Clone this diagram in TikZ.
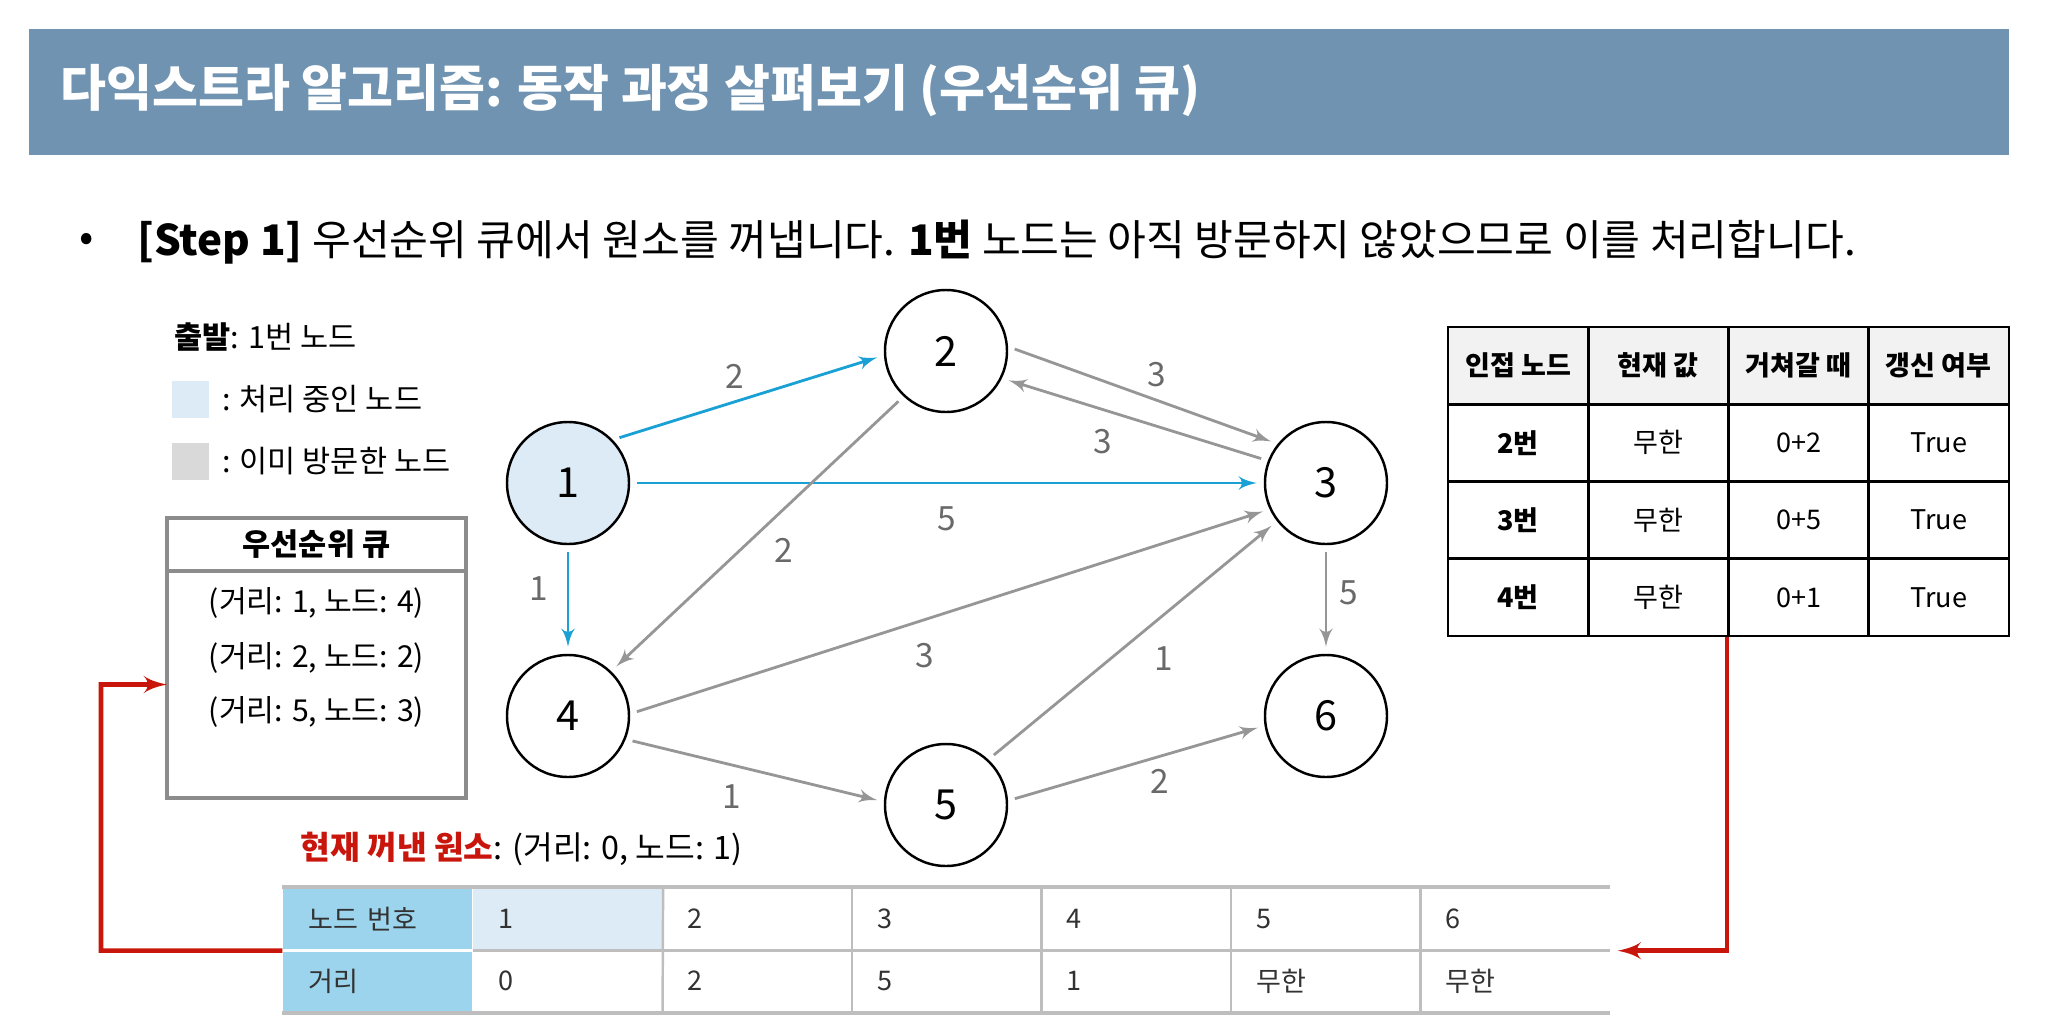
\documentclass[tikz,border=0pt]{standalone}
\usepackage{fontspec}
\setmainfont{Noto Sans CJK KR}
\usepackage{tikz}
\usetikzlibrary{arrows,positioning,shapes}

\definecolor{barblue}{RGB}{111,147,176}
\definecolor{hotblue}{RGB}{25,160,212}
\definecolor{edgegray}{RGB}{150,150,150}
\definecolor{labelgray}{RGB}{105,105,105}
\definecolor{procblue}{RGB}{221,235,247}
\definecolor{visitgray}{RGB}{217,217,217}
\definecolor{qgray}{RGB}{140,140,140}
\definecolor{redline}{RGB}{200,22,12}
\definecolor{headsky}{RGB}{155,212,236}
\definecolor{tablegray}{RGB}{190,190,190}
\definecolor{thead}{RGB}{242,242,242}
\definecolor{darktext}{RGB}{50,50,50}

\begin{document}
\begin{tikzpicture}[
    vertex/.style={circle, draw, line width=0.7pt, minimum size=1.22cm, inner sep=0pt, font=\fontsize{11.8}{12}\selectfont},
    edge/.style={->, >=latex', line width=0.8pt, draw=edgegray, shorten <=2pt, shorten >=2pt},
    hot/.style={edge, draw=hotblue},
    wlabel/.style={font=\fontsize{9.5}{10}\selectfont, text=labelgray},
    legbox/.style={rectangle, minimum size=0.37cm, inner sep=0pt},
    legtext/.style={font=\fontsize{8.7}{9}\selectfont, anchor=west},
    qbox/.style={rectangle, draw=qgray, line width=1.2pt, outer sep=0pt, minimum width=2.99cm},
    qitem/.style={font=\fontsize{8.6}{9}\selectfont},
    tcell/.style={rectangle, draw, line width=0.8pt, minimum width=1.4025cm, minimum height=0.7725cm, inner sep=0pt, font=\fontsize{7.7}{8}\selectfont},
    bcell/.style={rectangle, minimum width=1.8943cm, minimum height=0.62cm, inner xsep=0.26cm, inner ysep=0pt, text width=1.3743cm, align=left, font=\fontsize{7.7}{8}\selectfont, text=darktext},
    tline/.style={draw=tablegray, line width=0.7pt},
    redarrow/.style={->, >=latex', draw=redline, line width=1.3pt}
]
    \useasboundingbox (0,0) rectangle (20.48,-10.33);

    \node[rectangle, fill=barblue, minimum width=19.8cm, minimum height=1.26cm] (bar) at (10.19,-0.92) {};
    \node[anchor=west, text=white, font=\fontsize{14.2}{15}\selectfont\bfseries] (title) at (0.48,-0.91) {다익스트라 알고리즘: 동작 과정 살펴보기 (우선순위 큐)};

    \node[font=\fontsize{12}{13}\selectfont] (dot) at (0.87,-2.42) {•};
    \node[anchor=west, font=\fontsize{12}{13}\selectfont] (step) at (1.25,-2.42) {\textbf{[Step 1]} 우선순위 큐에서 원소를 꺼냅니다. \textbf{1번} 노드는 아직 방문하지 않았으므로 이를 처리합니다.};

    \node[legtext] (start) at (1.62,-3.37) {\textbf{출발}: 1번 노드};
    \node[legbox, fill=procblue] (legproc) at (1.905,-3.995) {};
    \node[legtext, right=0cm of legproc] (legproctxt) {: 처리 중인 노드};
    \node[legbox, fill=visitgray] (legdone) at (1.905,-4.61) {};
    \node[legtext, right=0cm of legdone] (legdonetxt) {: 이미 방문한 노드};

    \node[qbox, minimum height=0.53cm, font=\fontsize{8.7}{9}\selectfont\bfseries] (qhead) at (3.165,-5.445) {우선순위 큐};
    \node[qbox, minimum height=2.27cm, below=0pt of qhead] (qbody) {};
    \foreach \d/\n [count=\i] in {1/4, 2/2, 5/3}
        \node[qitem] (q\i) at ({3.165}, {-6.03-0.545*(\i-1)}) {(거리: \d, 노드: \n)};

    \node[vertex, fill=procblue] (v1) at (5.68,-4.83) {1};
    \node[vertex] (v2) at (9.46,-3.51) {2};
    \node[vertex] (v3) at (13.26,-4.83) {3};
    \node[vertex] (v4) at (5.68,-7.16) {4};
    \node[vertex] (v5) at (9.46,-8.05) {5};
    \node[vertex] (v6) at (13.26,-7.16) {6};

    \draw[hot] (v1.44) -- node[wlabel, above, pos=.45] {2} (v2.184);
    \draw[hot] (v1.east) -- node[wlabel, below=3pt] {5} (v3.west);
    \draw[hot] (v1.south) -- node[wlabel, left=2pt, pos=.4] {1} (v4.north);
    \draw[edge] (v2.4) -- node[wlabel, above, pos=.55] {3} (v3.141);
    \draw[edge] (v3.159) -- node[wlabel, below=2pt, pos=.62] {3} (v2.334);
    \draw[edge] (v2.227) -- node[wlabel, right=6pt, pos=.56] {2} (v4.46);
    \draw[edge] (v4.2) -- node[wlabel, below=3pt, pos=.46] {3} (v3.205);
    \draw[edge] (v4.338) -- node[wlabel, below=2pt, pos=.41] {1} (v5.177);
    \draw[edge] (v5.47) -- node[wlabel, below right, pos=.53] {1} (v3.218);
    \draw[edge] (v5.4) -- node[wlabel, below, pos=.59] {2} (v6.189);
    \draw[edge] (v3.south) -- node[wlabel, right, pos=.44] {5} (v6.north);

    \foreach \txt [count=\j] in {인접 노드, 현재 값, 거쳐갈 때, 갱신 여부}
        \node[tcell, fill=thead, font=\fontsize{7.7}{8}\selectfont\bfseries] (t0\j) at ({14.48+1.4025*(\j-0.5)}, -3.656) {\txt};
    \foreach \v/\cur/\via [count=\i] in {2/무한/0+2, 3/무한/0+5, 4/무한/0+1} {
        \node[tcell, font=\fontsize{7.7}{8}\selectfont\bfseries] (t\i1) at (15.181, {-3.656-0.7725*\i}) {\v{}번};
        \node[tcell] (t\i2) at (16.584, {-3.656-0.7725*\i}) {\cur};
        \node[tcell] (t\i3) at (17.986, {-3.656-0.7725*\i}) {\via};
        \node[tcell] (t\i4) at (19.389, {-3.656-0.7725*\i}) {True};
    }

    \node[anchor=west, font=\fontsize{9.2}{10}\selectfont] (popped) at (2.88,-8.49) {\textcolor{redline}{\textbf{현재 꺼낸 원소}}: (거리: 0, 노드: 1)};

    \node[bcell, fill=headsky] (hnode) at (3.777,-9.19) {노드 번호};
    \node[bcell, fill=headsky] (hdist) at (3.777,-9.81) {거리};
    \node[bcell, fill=procblue] (n1) at (5.677,-9.19) {1};
    \foreach \n in {2,...,6}
        \node[bcell] (n\n) at ({2.83+1.8943*(\n+0.5)}, -9.19) {\n};
    \foreach \n/\d in {1/0, 2/2, 3/5, 4/1, 5/무한, 6/무한}
        \node[bcell] (d\n) at ({2.83+1.8943*(\n+0.5)}, -9.81) {\d};

    \draw[tline, line width=1.2pt] (hnode.north west) -- (n6.north east);
    \draw[tline] (n1.south west) -- (n6.south east);
    \draw[white, line width=1pt] (hnode.south west) -- (hnode.south east);
    \draw[tline, line width=1.2pt] (hdist.south west) -- (d6.south east);
    \foreach \n in {1,...,5}
        \draw[tline] (n\n.north east) -- (d\n.south east);

    \draw[redarrow] (t33.south west) |- ([xshift=0.08cm]n6.south east);
    \coordinate (loopx) at (1.01,-6.845);
    \draw[redarrow] (hnode.south west) -| (loopx) -- (qbody.west);
\end{tikzpicture}
\end{document}
